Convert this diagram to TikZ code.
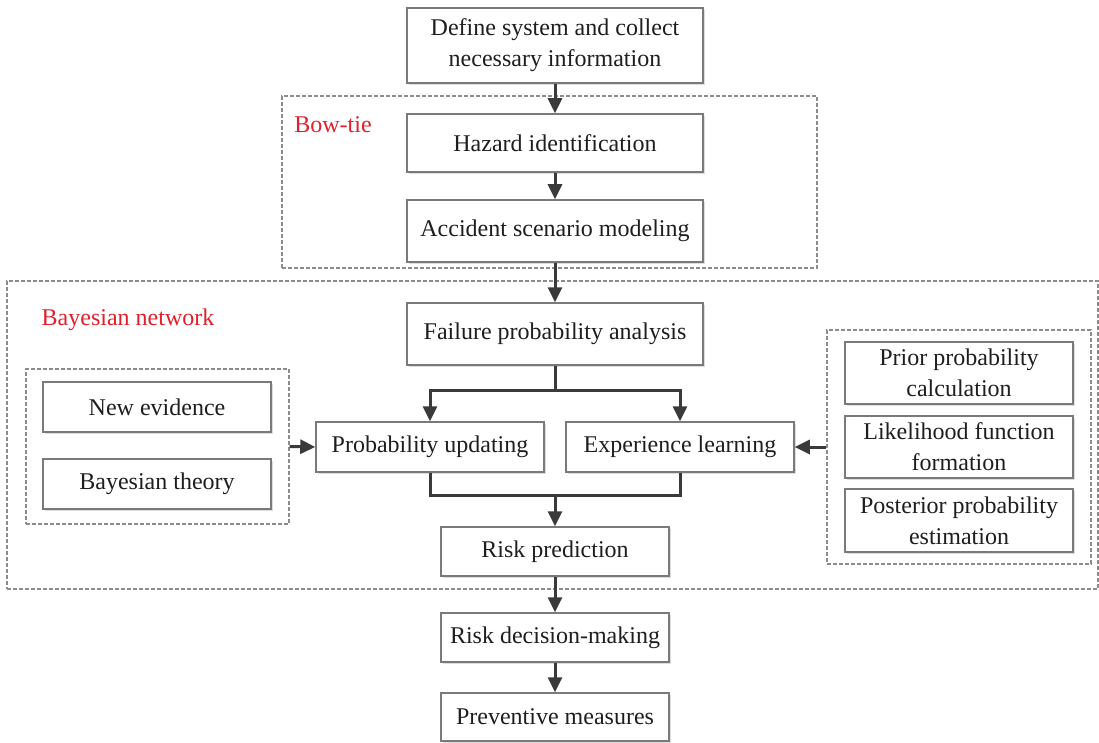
\documentclass[tikz,border=0pt]{standalone}
\usepackage{fontspec}
\setmainfont{Liberation Serif}
\usetikzlibrary{arrows.meta,shadows}

\definecolor{boxline}{HTML}{7A7A7A}
\definecolor{dashline}{HTML}{8C8C8C}
\definecolor{arrowcol}{HTML}{3A3A3A}
\definecolor{labelred}{HTML}{E0202A}
\definecolor{textcol}{HTML}{1E1E1E}

\tikzset{
  stepbox/.style={draw=boxline, line width=1.5pt, fill=white, rectangle,
    inner sep=0pt, align=center, text=textcol,
    font=\fontsize{24}{31}\selectfont,
    drop shadow={shadow xshift=2pt, shadow yshift=-2pt, fill=black!22, opacity=0.6}},
  group/.style={draw=dashline, line width=1.4pt, dash pattern=on 4pt off 2pt,
    rectangle, inner sep=0pt},
  grouplabel/.style={text=labelred, font=\fontsize{24}{28}\selectfont, inner sep=0pt},
  arr/.style={draw=arrowcol, line width=3pt,
    -{Triangle[length=15pt,width=14pt]}},
  ln/.style={draw=arrowcol, line width=3pt}
}

\begin{document}
\begin{tikzpicture}[x=1pt,y=-1pt]
\useasboundingbox (0,0) rectangle (1099,743);

% dashed groupings
\node[group, minimum width=535pt, minimum height=172pt] (bowtie) at (549.5,182) {};
\node[group, minimum width=1091pt, minimum height=308pt] (bayes) at (552.5,435) {};
\node[group, minimum width=263pt, minimum height=155pt] (leftgrp) at (157.5,446.5) {};
\node[group, minimum width=264pt, minimum height=234pt] (rightgrp) at (959,447) {};

\node[grouplabel] (bowtielabel) at (333,125) {Bow-tie};
\node[grouplabel] (bayeslabel) at (128,320) {Bayesian network};

% main chain
\node[stepbox, minimum width=296pt, minimum height=75pt] (define) at (555,45.5)
  {Define system and collect\\necessary information};
\node[stepbox, minimum width=296pt, minimum height=58pt] (hazard) at (555,143)
  {Hazard identification};
\node[stepbox, minimum width=296pt, minimum height=62pt] (accident) at (555,231)
  {Accident scenario modeling};
\node[stepbox, minimum width=296pt, minimum height=62pt] (failure) at (555,334)
  {Failure probability analysis};
\node[stepbox, minimum width=228pt, minimum height=50pt] (probup) at (430,447)
  {Probability updating};
\node[stepbox, minimum width=228pt, minimum height=50pt] (exper) at (680,447)
  {Experience learning};
\node[stepbox, minimum width=228pt, minimum height=49pt] (riskpred) at (555,551.5)
  {Risk prediction};
\node[stepbox, minimum width=228pt, minimum height=49pt] (riskdec) at (555,637.5)
  {Risk decision-making};
\node[stepbox, minimum width=228pt, minimum height=48pt] (prevent) at (555,717)
  {Preventive measures};

% left inputs
\node[stepbox, minimum width=228pt, minimum height=50pt] (newev) at (157,407)
  {New evidence};
\node[stepbox, minimum width=228pt, minimum height=50pt] (baythe) at (157,484)
  {Bayesian theory};

% right inputs
\node[stepbox, minimum width=228pt, minimum height=62pt] (prior) at (959,373)
  {Prior probability\\calculation};
\node[stepbox, minimum width=228pt, minimum height=62pt] (likeli) at (959,447)
  {Likelihood function\\formation};
\node[stepbox, minimum width=228pt, minimum height=63pt] (poster) at (959,520.5)
  {Posterior probability\\estimation};

% connectors
\draw[arr] (define) -- (hazard);
\draw[arr] (hazard) -- (accident);
\draw[arr] (accident) -- (failure);
\coordinate (split) at (555,390);
\draw[ln] (failure.south) -- (split);
\draw[arr] (split) -| (probup.north);
\draw[arr] (split) -| (exper.north);
\coordinate (merge) at (555,495);
\draw[ln] (probup.south) |- (merge) -| (exper.south);
\draw[arr] (merge) -- (riskpred.north);
\draw[arr] (leftgrp.east) -- (probup.west);
\draw[arr] (rightgrp.west) -- (exper.east);
\draw[arr] (riskpred) -- (riskdec);
\draw[arr] (riskdec) -- (prevent);
\end{tikzpicture}
\end{document}
